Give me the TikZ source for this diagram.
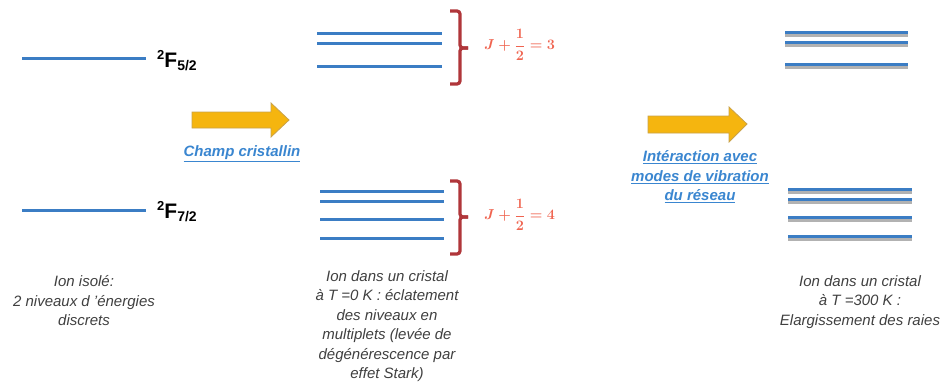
\documentclass[tikz,border=0pt]{standalone}
\usepackage{fontspec}
\setmainfont{Liberation Sans}
\usetikzlibrary{calc}
\definecolor{lvl}{HTML}{3B7DC4}
\definecolor{arrfill}{HTML}{F5B50F}
\definecolor{arrline}{HTML}{C9A24A}
\definecolor{captxt}{HTML}{404040}
\definecolor{linkblue}{HTML}{3A86D0}
\definecolor{bracered}{HTML}{B0363A}
\definecolor{labred}{HTML}{F06450}
\tikzset{
  level/.style={draw=lvl, line width=3pt},
  shadowlvl/.style={draw=black!30, line width=3pt},
  bigarrow/.style={fill=arrfill, draw=arrline, line width=0.8pt},
  caption/.style={text=captxt, font=\fontsize{15}{19.5}\selectfont\itshape, align=center, inner sep=0pt},
  linktext/.style={text=linkblue, font=\fontsize{15}{19.5}\selectfont\bfseries\itshape, align=center, inner sep=0pt},
  bracket/.style={draw=bracered, line width=3.2pt, rounded corners=3pt},
  jlabel/.style={text=labred, font=\fontsize{14}{14}\selectfont\boldmath, inner sep=0pt, anchor=west},
  termlabel/.style={font=\bfseries, anchor=base west, inner sep=0pt}
}
\newcommand{\termF}[1]{{\fontsize{13}{13}\selectfont\raisebox{8pt}{2}}{\fontsize{21}{21}\selectfont F}{\fontsize{14}{14}\selectfont\raisebox{-3.5pt}{#1}}}
\begin{document}
\begin{tikzpicture}[x=1pt,y=-1pt]
\useasboundingbox (0,0) rectangle (945,381);
\fill[white] (0,0) rectangle (945,381);

% free ion levels
\draw[level] (22,58) -- (146,58);
\draw[level] (22,210) -- (146,210);
\node[termlabel] (f52) at (157,67) {\termF{5/2}};
\node[termlabel] (f72) at (157,218) {\termF{7/2}};

% crystal field arrow
\draw[bigarrow] (192,112) -- (271,112) -- (271,103) -- (289,120) -- (271,137) -- (271,128) -- (192,128) -- cycle;
\node[linktext] (champ) at (242,154) {\underline{Champ cristallin}};

% T = 0 K levels
\foreach \y in {33,43,66} \draw[level] (317,\y) -- (442,\y);
\foreach \y in {191,201,219,238} \draw[level] (320,\y) -- (444,\y);

% brackets
\draw[bracket] (450,11) -- (460,11) -- (460,48) -- (468,48);
\draw[bracket] (468,48) -- (460,48) -- (460,84) -- (450,84);
\draw[bracket] (450,181) -- (460,181) -- (460,217) -- (468,217);
\draw[bracket] (468,217) -- (460,217) -- (460,254) -- (450,254);
\node[jlabel] (j3) at (484,45) {$J+{\displaystyle\frac{1}{2}}=3$};
\node[jlabel] (j4) at (484,215) {$J+{\displaystyle\frac{1}{2}}=4$};

% lattice vibration arrow
\draw[bigarrow] (648,116) -- (729,116) -- (729,107) -- (747,124) -- (729,142) -- (729,133) -- (648,133) -- cycle;
\node[linktext] (inter) at (700,177) {\underline{Intéraction avec}\\\underline{modes de vibration}\\\underline{du réseau}};

% T = 300 K broadened levels
\foreach \y in {32,42,64} {\draw[shadowlvl] (785,\y+3.5) -- (908,\y+3.5); \draw[level] (785,\y) -- (908,\y);}
\foreach \y in {189,199,217,236} {\draw[shadowlvl] (788,\y+3.5) -- (912,\y+3.5); \draw[level] (788,\y) -- (912,\y);}

% captions
\node[caption] (c1) at (84,301) {Ion isolé:\\2 niveaux d 'énergies\\discrets};
\node[caption] (c2) at (387,326) {Ion dans un cristal\\à T =0 K : éclatement\\des niveaux en\\multiplets (levée de\\dégénérescence par\\effet Stark)};
\node[caption] (c3) at (860,302) {Ion dans un cristal\\à T =300 K :\\Elargissement des raies};
\end{tikzpicture}
\end{document}
